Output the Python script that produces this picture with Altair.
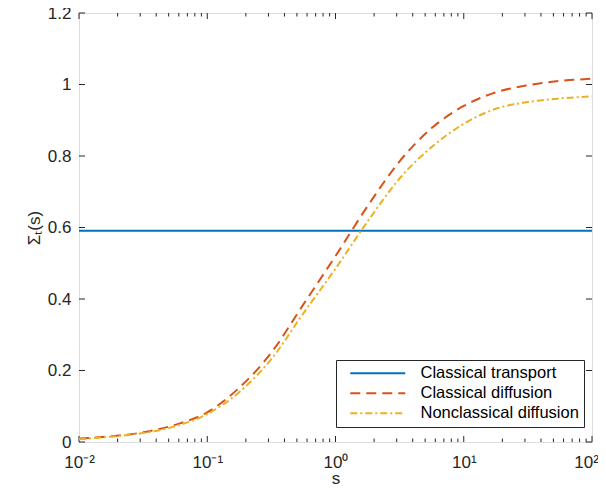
import altair as alt
import pandas as pd

# ---------------- data ----------------
series_names = ["Classical transport", "Classical diffusion", "Nonclassical diffusion"]
series_colors = ["#0072BD", "#D95319", "#EDB120"]
series_dash = [[1, 0], [10, 6], [7, 3, 2, 3]]

s_transport = [0.01, 100]
v_transport = [0.591, 0.591]

s_grid = [0.01, 0.0178, 0.0316, 0.0562, 0.1, 0.178, 0.316, 0.562, 1.0,
          1.78, 3.16, 5.62, 10.0, 17.8, 31.6, 56.2, 100.0]
v_cdiff = [0.010, 0.016, 0.027, 0.048, 0.083, 0.152, 0.250, 0.385, 0.520,
           0.660, 0.785, 0.878, 0.940, 0.978, 0.998, 1.010, 1.016]
v_ncdiff = [0.008, 0.015, 0.025, 0.044, 0.078, 0.140, 0.232, 0.360, 0.485,
            0.617, 0.737, 0.825, 0.890, 0.932, 0.951, 0.961, 0.967]

x_major = [0.01, 0.1, 1, 10, 100]
x_major_labels = ["10⁻²", "10⁻¹", "10⁰", "10¹", "10²"]
x_minor = [k * m for m in [0.01, 0.1, 1, 10] for k in range(2, 10)]
y_major = [0, 0.2, 0.4, 0.6, 0.8, 1.0, 1.2]
y_major_labels = ["0", "0.2", "0.4", "0.6", "0.8", "1", "1.2"]

x_title = "s"
y_title = "Σₜ(s)"

# ---------------- build tables ----------------
rows = []
for name, ss, vv in [(series_names[0], s_transport, v_transport),
                     (series_names[1], s_grid, v_cdiff),
                     (series_names[2], s_grid, v_ncdiff)]:
    for s, v in zip(ss, vv):
        rows.append({"series": name, "s": s, "v": v})
df = pd.DataFrame(rows)

W, H = 513, 429
FONT = "Liberation Sans"
INK = "#262626"

x_label_expr = "[" + ",".join("'%s'" % t for t in x_major_labels) + "][round(log(datum.value)/LN10) + 2]"
y_label_expr = "[" + ",".join("'%s'" % t for t in y_major_labels) + "][round(datum.value*5)]"

x_scale = alt.Scale(type="log", domain=[0.01, 100], nice=False)
y_scale = alt.Scale(domain=[0, 1.2], nice=False, zero=False)

x_axis = alt.Axis(values=x_major, labelExpr=x_label_expr, title=x_title, ticks=False, domain=False,
                  grid=False, labelFont=FONT, labelFontSize=17, labelColor=INK, labelPadding=12,
                  labelFlush=False,
                  labelOffset={"condition": {"test": "datum.value > 50", "value": -6}, "value": 0},
                  titleFont=FONT, titleFontSize=17, titleFontWeight="normal",
                  titleColor=INK, titlePadding=0)
y_axis = alt.Axis(values=y_major, labelExpr=y_label_expr, title=y_title, ticks=False, domain=False,
                  grid=False, labelFont=FONT, labelFontSize=17, labelColor=INK, labelPadding=8,
                  labelFlush=False, titleFont=FONT, titleFontSize=17, titleFontWeight="normal",
                  titleColor=INK, titlePadding=4)

X = alt.X("s:Q", scale=x_scale, axis=x_axis)
Y = alt.Y("v:Q", scale=y_scale, axis=y_axis)

legend = alt.Legend(orient="none", legendX=257, legendY=347, symbolType="M-1,0H10", symbolSize=100,
                    symbolStrokeWidth=2, symbolOffset=6, labelOffset=57,
                    labelFont=FONT, labelFontSize=16.5, labelColor="black",
                    strokeColor=INK, fillColor="white", padding=5, rowPadding=3)

lines = alt.Chart(df).mark_line(strokeWidth=2, interpolate="monotone", clip=True).encode(
    x=X, y=Y,
    color=alt.Color("series:N", scale=alt.Scale(domain=series_names, range=series_colors),
                    legend=legend, title=None),
    strokeDash=alt.StrokeDash("series:N", scale=alt.Scale(domain=series_names, range=series_dash),
                              legend=legend, title=None),
    order=alt.Order("s:Q"),
)

xmaj = pd.DataFrame({"s": x_major})
xmin = pd.DataFrame({"s": x_minor})
ymaj = pd.DataFrame({"v": y_major})

def xticks(data, y0, y1):
    return alt.Chart(data).mark_rule(color=INK, strokeWidth=1).encode(
        x=X, y=alt.value(y0), y2=alt.value(y1))

def yticks(x0, x1):
    return alt.Chart(ymaj).mark_rule(color=INK, strokeWidth=1).encode(
        y=Y, x=alt.value(x0), x2=alt.value(x1))

chart = alt.layer(
    xticks(xmaj, H, H - 6), xticks(xmaj, 0, 6),
    xticks(xmin, H, H - 3.5), xticks(xmin, 0, 3.5),
    yticks(0, 6), yticks(W, W - 6),
    lines,
).properties(
    width=W, height=H,
    padding={"left": 71, "top": 5, "right": 6, "bottom": 46},
    autosize=alt.AutoSizeParams(type="none"),
).configure_view(stroke=INK, strokeWidth=1).configure(background="white")

chart.save("out.html", embed_options={"renderer": "svg", "actions": False})
